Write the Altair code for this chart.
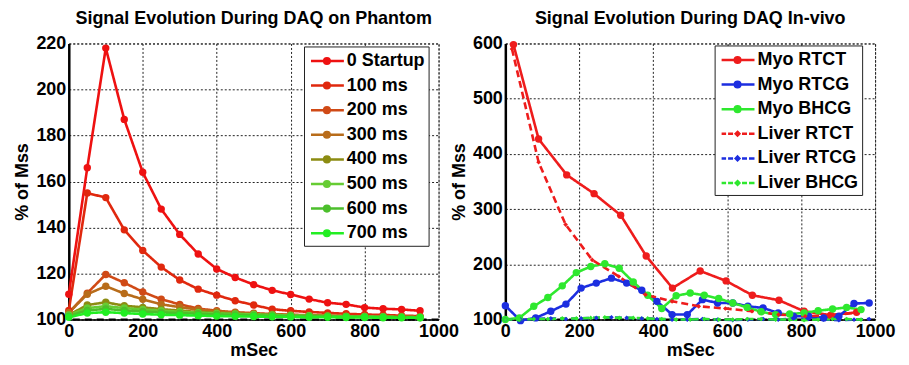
import altair as alt
import pandas as pd

FONT = "Liberation Sans"

# ---------------- Left panel data (phantom) ----------------
left_x = [0, 50, 100, 150, 200, 250, 300, 350, 400, 450,
          500, 550, 600, 650, 700, 750, 800, 850, 900, 950]
left_series = ["0 Startup", "100 ms", "200 ms", "300 ms",
               "400 ms", "500 ms", "600 ms", "700 ms"]
left_colors = ["#ee1111", "#e0280e", "#d04a16", "#b86c1a",
               "#8c8c12", "#66cc33", "#4cbf2c", "#22ee22"]
v_0startup = [111, 166, 218, 187, 164, 148, 137, 128.5, 122, 118.3,
              115.2, 112.7, 110.9, 108.9, 107.3, 106.6, 105.2, 104.7, 104.4, 103.8]
v_100 = [104, 155, 153, 139, 130, 122.8, 117.2, 113.2, 110.6, 108.2,
         106.3, 104.5, 103.8, 103.3, 102.9, 102.5, 102.2, 102, 101.7, 101.5]
v_200 = [103, 111.5, 119.6, 116, 112, 108.8, 106.6, 104.8, 103.8, 103.2,
         102.8, 102.4, 102.1, 101.9, 101.7, 101.5, 101.3, 101.2, 101.1, 101]
v_300 = [103, 111, 114.5, 111.3, 108.8, 106.6, 105.4, 104.3, 103.5, 103,
         102.5, 102.2, 101.9, 101.7, 101.5, 101.3, 101.2, 101.1, 101, 100.9]
v_400 = [102, 106.3, 107.5, 106, 105.3, 104.5, 103.9, 103.3, 102.9, 102.6,
         102.3, 102.1, 101.9, 101.7, 101.6, 101.4, 101.3, 101.2, 101.1, 101]
v_500 = [102, 105, 105.8, 105, 104.4, 103.9, 103.4, 103, 102.7, 102.4,
         102.2, 102, 101.8, 101.7, 101.5, 101.4, 101.3, 101.2, 101.1, 101]
v_600 = [101.5, 104, 104.6, 104, 103.5, 103.1, 102.8, 102.5, 102.2, 102,
         101.8, 101.6, 101.5, 101.4, 101.3, 101.2, 101.1, 101, 101, 100.9]
v_700 = [101, 102.8, 103.2, 102.8, 102.4, 102.1, 101.9, 101.7, 101.5, 101.4,
         101.3, 101.2, 101.1, 101, 101, 100.9, 100.9, 100.8, 100.8, 100.8]
left_values = [v_0startup, v_100, v_200, v_300, v_400, v_500, v_600, v_700]

# ---------------- Right panel data (in-vivo) ----------------
right_series = ["Myo RTCT", "Myo RTCG", "Myo BHCG",
                "Liver RTCT", "Liver RTCG", "Liver BHCG"]
right_colors = ["#ee1c1c", "#1c2ee0", "#2ee82e",
                "#ee1c1c", "#1c2ee0", "#2ee82e"]
ct_x = [22, 90, 166, 240, 312, 381, 452, 527, 597, 668, 740, 808, 880, 950]
myo_rtct = [598, 427, 362, 328, 289, 215, 157, 188, 170, 144, 135, 115, 108, 113]
liver_ct_x = [18, 90, 163, 235, 307, 379, 451, 523, 595, 667, 739, 811, 878, 950]
liver_rtct = [590, 385, 272, 208, 178, 145, 133, 124, 120, 115, 109, 106, 108, 112]
cg_x = [0, 41, 82, 123, 164, 205, 246, 287, 328, 369, 410, 451, 492,
        533, 574, 615, 656, 697, 738, 779, 820, 861, 902, 943, 984]
myo_rtcg = [125, 98, 103, 115, 128, 157, 166, 175, 166, 153, 133, 109, 109,
            136, 130, 130, 124, 121, 112, 106, 106, 103, 106, 129, 130]
liver_rtcg = [100, 100, 101, 102, 101, 102, 103, 104, 103, 102, 101, 100, 100,
              101, 100, 99, 100, 101, 100, 102, 101, 100, 99, 100, 101]
bh_x = [0, 38, 77, 115, 154, 192, 231, 269, 308, 346, 385, 423, 462,
        500, 538, 577, 615, 654, 692, 731, 769, 808, 846, 885, 923, 962]
myo_bhcg = [100, 103, 124, 140, 161, 185, 196, 201, 193, 168, 144, 120, 143,
            148, 144, 138, 130, 122, 114, 109, 110, 112, 116, 119, 122, 118]
liver_bhcg = [100, 100, 101, 101, 102, 102, 103, 104, 103, 103, 102, 101, 100,
              100, 101, 100, 100, 101, 101, 100, 100, 99, 100, 101, 101, 100]
right_x = [ct_x, cg_x, bh_x, liver_ct_x, cg_x, bh_x]
right_values = [myo_rtct, myo_rtcg, myo_bhcg, liver_rtct, liver_rtcg, liver_bhcg]
right_dashed = [False, False, False, True, True, True]

baseline = [100]

# ---------------- tables ----------------
rows = []
for s, vals in zip(left_series, left_values):
    for i, (x, y) in enumerate(zip(left_x, vals)):
        rows.append({"series": s, "x": x, "y": y, "i": i})
left_df = pd.DataFrame(rows)

rows = []
for s, xs, vals in zip(right_series, right_x, right_values):
    for i, (x, y) in enumerate(zip(xs, vals)):
        rows.append({"series": s, "x": x, "y": y, "i": i})
right_df = pd.DataFrame(rows)

# legend glyphs (line + marker), unit space scaled by symbol size
SOLID = ("M-0.75,0 L2.55,0 "
         "M0.57,0 A0.28,0.28 0 1,0 1.13,0 A0.28,0.28 0 1,0 0.57,0 Z")
DASHED = ("M-0.75,0 L-0.3,0 M-0.1,0 L0.4,0 M0.6,0 L1.1,0 "
          "M1.3,0 L1.8,0 M2.0,0 L2.55,0 "
          "M0.85,-0.18 L1.03,0 L0.85,0.18 L0.67,0 Z")


def make_legend(x, y):
    return alt.Legend(
        title=None, orient="none", legendX=x, legendY=y,
        symbolSize=400, symbolStrokeWidth=2.5, symbolOpacity=1,
        labelFont=FONT, labelFontSize=18, labelFontWeight="bold",
        labelColor="black", labelOffset=17, labelLimit=400,
        padding=3, rowPadding=3.7,
        strokeColor="#222", fillColor="white",
    )


def panel(df, series, colors, dashes, shapes, ymax, ystep, title, leg,
          small_series):
    xs = alt.X("x:Q", scale=alt.Scale(domain=[0, 1000], nice=False),
               axis=alt.Axis(values=list(range(0, 1001, 200)), title="mSec",
                             format="d"))
    ys = alt.Y("y:Q", scale=alt.Scale(domain=[100, ymax], nice=False, zero=False),
               axis=alt.Axis(values=list(range(100, ymax + 1, ystep)),
                             title="% of Mss", format="d"))
    # reversed domain order for the unlabeled channels so that they are not
    # merged with (and do not disable) the visible legend
    rs, rc, rd = series[::-1], colors[::-1], dashes[::-1]
    col = alt.Color("series:N", scale=alt.Scale(domain=rs, range=rc),
                    legend=None)
    base = alt.Chart(df)
    rule = alt.Chart(pd.DataFrame({"y": baseline})).mark_rule(
        color="black", strokeDash=[7, 5], strokeWidth=2
    ).encode(y=ys)
    lines = base.mark_line(strokeWidth=2.6, opacity=1).encode(
        x=xs, y=ys, color=col,
        strokeDash=alt.StrokeDash("series:N",
                                  scale=alt.Scale(domain=rs, range=rd),
                                  legend=None),
        order="i:Q",
    )
    big = [s for s in series if s not in small_series]
    pts = base.transform_filter(
        alt.FieldOneOfPredicate(field="series", oneOf=big)
    ).mark_point(filled=True, size=55, opacity=1, shape="circle").encode(
        x=xs, y=ys, color=col)
    layers = [rule, lines, pts]
    if small_series:
        spts = base.transform_filter(
            alt.FieldOneOfPredicate(field="series", oneOf=small_series)
        ).mark_point(filled=True, size=22, opacity=1, shape="diamond").encode(
            x=xs, y=ys, color=col)
        layers.append(spts)
    legl = base.mark_point(
        filled=True, size=400, opacity=0
    ).encode(
        x=xs, y=ys,
        fill=alt.Fill("series:N", scale=alt.Scale(domain=series, range=colors),
                      legend=leg),
        stroke=alt.Stroke("series:N",
                          scale=alt.Scale(domain=series, range=colors),
                          legend=leg),
        shape=alt.Shape("series:N",
                        scale=alt.Scale(domain=series, range=shapes),
                        legend=leg),
    )
    layers.append(legl)
    return alt.layer(*layers).properties(
        width=371, height=277,
        title=alt.Title(title, font=FONT, fontSize=18, fontWeight="bold",
                        color="black", offset=7),
    )


left = panel(left_df, left_series, left_colors,
             [[1, 0]] * len(left_series), [SOLID] * len(left_series),
             220, 20, "Signal Evolution During DAQ on Phantom",
             make_legend(236, 3), [])
right = panel(right_df, right_series, right_colors,
              [[7, 4] if d else [1, 0] for d in right_dashed],
              [DASHED if d else SOLID for d in right_dashed],
              600, 100, "Signal Evolution During DAQ In-vivo",
              make_legend(210, 2), [s for s, d in zip(right_series, right_dashed) if d])

chart = alt.hconcat(left, right, spacing=67, bounds="flush").resolve_scale(
    color="independent", fill="independent", stroke="independent",
    shape="independent", strokeDash="independent"
).configure(
    padding={"left": 5, "top": 0, "right": 5, "bottom": 0},
    background="white",
).configure_view(
    stroke="#333", strokeDash=[2, 2], strokeWidth=1
).configure_axis(
    labelFont=FONT, labelFontSize=18, labelFontWeight="bold",
    labelColor="black", titleFont=FONT, titleFontSize=18,
    titleFontWeight="bold", titleColor="black",
    grid=True, gridColor="#222", gridDash=[2, 2], gridOpacity=1,
    gridWidth=1, domainColor="black", tickSize=0, labelPadding=3,
    labelOverlap=False, labelFlush=False,
).configure_axisY(
    domainWidth=2.5, titlePadding=4
).configure_axisX(
    domainWidth=1.5, titlePadding=1
)

chart.save("out.html", embed_options={"renderer": "svg", "actions": False})
